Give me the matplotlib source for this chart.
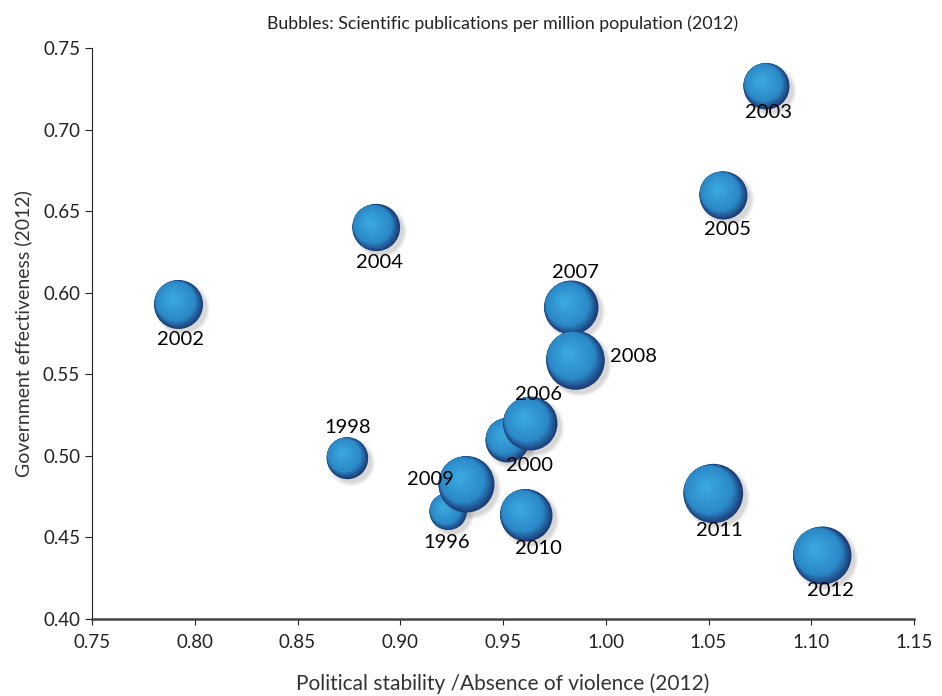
import numpy as np
import matplotlib
matplotlib.use("Agg")
import matplotlib.pyplot as plt
from matplotlib.transforms import offset_copy
from matplotlib.colors import to_rgb

# data
years = ['1996', '1998', '2000', '2002', '2003', '2004', '2005',
         '2006', '2007', '2008', '2009', '2010', '2011', '2012']
stability = [0.923, 0.874, 0.952, 0.792, 1.078, 0.888, 1.057,
             0.963, 0.983, 0.985, 0.932, 0.961, 1.052, 1.105]
effectiveness = [0.466, 0.499, 0.510, 0.593, 0.727, 0.640, 0.660,
                 0.520, 0.591, 0.559, 0.483, 0.464, 0.477, 0.439]
# bubble size (relative publications per million)
pubs = [342, 428, 484, 600, 529, 560, 576, 729, 729, 858, 784, 676, 880, 841]

# label offsets in pixels from bubble centre
lab_dx = [-1, 1, 22, 2, 2, 4, 5, 9, 5, 59, -36, 13, 7, 9]
lab_dy = [-31, 30, -26, -35, -27, -35, -35, 29, 35, 3, 4, -34, -37, -35]

plt.rcParams['font.family'] = ['Lato', 'DejaVu Sans']

fig = plt.figure(figsize=(9.42, 6.96), dpi=100)
ax = fig.add_axes([0.0977, 0.1106, 0.8726, 0.8204])

dark = np.array(to_rgb('#1c3c76'))
mid = np.array(to_rgb('#2b89c8'))
hi = np.array(to_rgb('#3aa8de'))


def layer(x, y, r, f, off, c):
    # one disc of the shaded sphere, shifted up-left by off*r pixels
    d = off * r / np.sqrt(2)
    tr = offset_copy(ax.transData, fig=fig, x=-d, y=d, units='dots')
    ax.scatter([x], [y], s=(2 * r * f * 0.72) ** 2, color=c, lw=0,
               transform=tr, zorder=3)


for i in range(len(years)):
    x, y = stability[i], effectiveness[i]
    r = np.sqrt(pubs[i])  # radius in pixels
    # soft shadow to the lower right
    for k, a in enumerate([0.04, 0.05, 0.07]):
        tr = offset_copy(ax.transData, fig=fig, x=4, y=-4, units='dots')
        rr = r + 3 - k * 1.5
        ax.scatter([x], [y], s=(2 * rr * 0.72) ** 2, color='black',
                   alpha=a, lw=0, transform=tr, zorder=2)
    # dark crescent on the lower right
    n1 = 12
    for k in range(n1):
        t = k / (n1 - 1)
        f = 1 - 0.2 * t
        c = dark + (mid - dark) * t
        layer(x, y, r, f, 1 - f, c)
    # highlight towards upper left
    n2 = 22
    for k in range(1, n2):
        t = k / (n2 - 1)
        f = 0.8 - 0.7 * t
        c = mid + (hi - mid) * t
        layer(x, y, r, f, 0.2 + 0.15 * t, c)
    ax.annotate(years[i], (x, y), xytext=(lab_dx[i], lab_dy[i]),
                textcoords='offset pixels', ha='center', va='center',
                fontsize=14.5, color='black', zorder=5)

ax.set_xlim(0.75, 1.15)
ax.set_ylim(0.40, 0.75)
ax.set_xticks(np.arange(0.75, 1.151, 0.05))
ax.set_yticks(np.arange(0.40, 0.751, 0.05))
ax.xaxis.set_major_formatter(matplotlib.ticker.FormatStrFormatter('%.2f'))
ax.yaxis.set_major_formatter(matplotlib.ticker.FormatStrFormatter('%.2f'))

ax.spines['top'].set_visible(False)
ax.spines['right'].set_visible(False)
ax.spines['left'].set_color('#222222')
ax.spines['left'].set_linewidth(0.8)
ax.spines['bottom'].set_color('#444444')
ax.spines['bottom'].set_linewidth(1.8)
ax.tick_params(axis='both', labelsize=13.5, colors='#222222', length=5, width=0.8)
ax.tick_params(axis='x', length=4, pad=7)

ax.set_title('Bubbles: Scientific publications per million population (2012)',
             fontsize=12.8, color='#222222', pad=14)
ax.set_xlabel('Political stability /Absence of violence (2012)', fontsize=15,
              color='#333333', labelpad=16)
ax.set_ylabel('Government effectiveness (2012)', fontsize=14, color='#333333',
              labelpad=8)

plt.savefig('out.png', dpi=100)
